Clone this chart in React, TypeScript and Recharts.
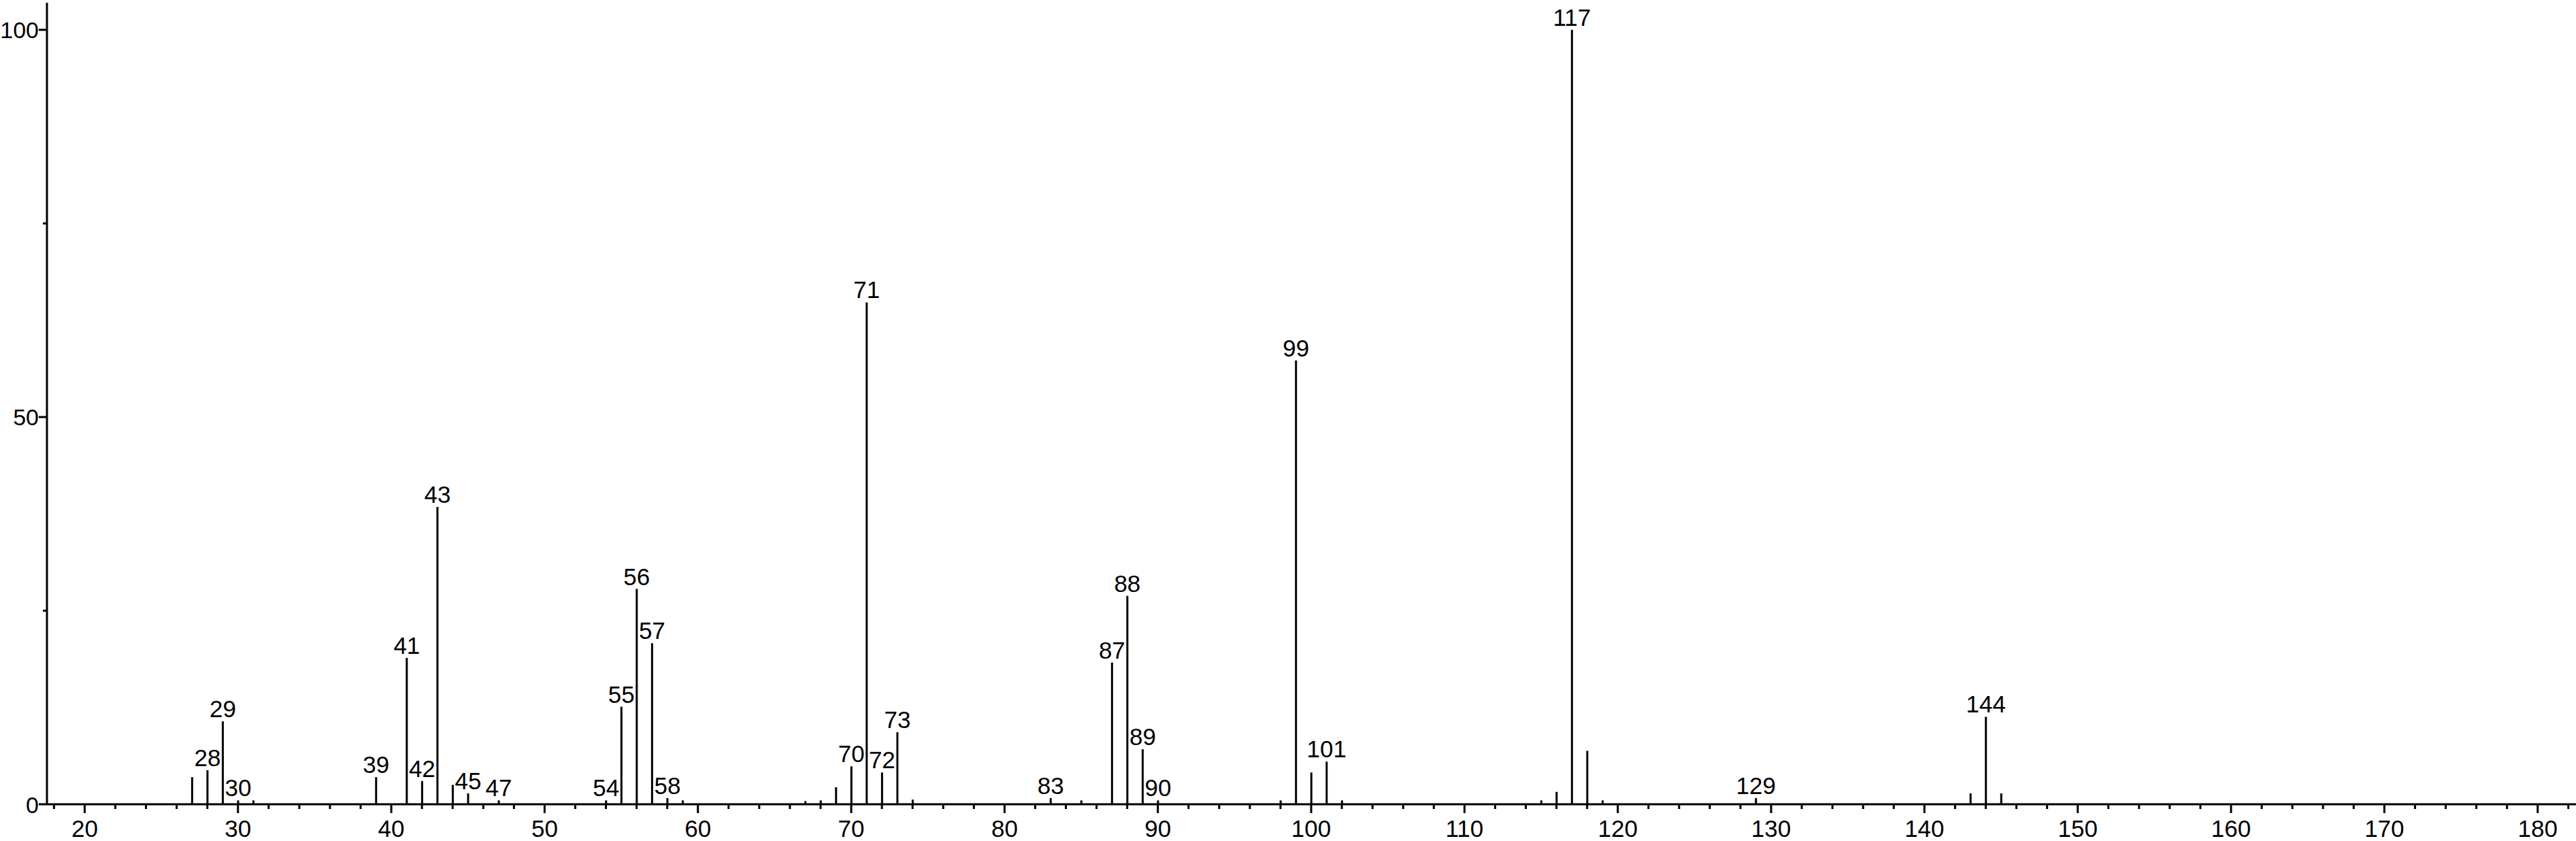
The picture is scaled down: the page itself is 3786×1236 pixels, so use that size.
import React from 'react';
import { BarChart, Bar, XAxis, YAxis, LabelList } from 'recharts';

const mzValues = [27, 28, 29, 30, 31, 39, 41, 42, 43, 44, 45, 47, 54, 55, 56, 57, 58, 59, 67, 68, 69, 70, 71, 72, 73, 74, 83, 85, 87, 88, 89, 90, 98, 99, 100, 101, 102, 115, 116, 117, 118, 119, 129, 143, 144, 145];
const intensities = [3.5, 4.4, 10.7, 0.5, 0.5, 3.5, 18.9, 3.0, 38.4, 2.5, 1.4, 0.5, 0.5, 12.6, 27.8, 20.8, 0.8, 0.5, 0.4, 0.5, 2.2, 4.9, 64.8, 4.1, 9.3, 0.6, 0.8, 0.5, 18.3, 26.9, 7.1, 0.5, 0.5, 57.3, 4.1, 5.5, 0.5, 0.5, 1.6, 100, 6.9, 0.5, 0.8, 1.4, 11.3, 1.4];
const labeledPeaks = [28, 29, 30, 39, 41, 42, 43, 45, 47, 54, 55, 56, 57, 58, 70, 71, 72, 73, 83, 87, 88, 89, 90, 99, 101, 117, 129, 144];

const xTicks = [18, 20, 22, 24, 26, 28, 30, 32, 34, 36, 38, 40, 42, 44, 46, 48, 50, 52, 54, 56, 58, 60, 62, 64, 66, 68, 70, 72, 74, 76, 78, 80, 82, 84, 86, 88, 90, 92, 94, 96, 98, 100, 102, 104, 106, 108, 110, 112, 114, 116, 118, 120, 122, 124, 126, 128, 130, 132, 134, 136, 138, 140, 142, 144, 146, 148, 150, 152, 154, 156, 158, 160, 162, 164, 166, 168, 170, 172, 174, 176, 178, 180, 182];
const xMajorTicks = [20, 30, 40, 50, 60, 70, 80, 90, 100, 110, 120, 130, 140, 150, 160, 170, 180];
const yTicks = [0, 25, 50, 75, 100];
const yMajorTicks = [0, 50, 100];

const data = mzValues.map((mz, i) => ({
  mz,
  intensity: intensities[i],
  label: labeledPeaks.includes(mz) ? String(mz) : '',
}));

const FONT = '"Liberation Sans", Arial, Helvetica, sans-serif';
const FS = 35;

const XTick = (props: any) => {
  const { x, y, payload } = props;
  const major = xMajorTicks.includes(payload.value);
  return (
    <g>
      <line x1={x} y1={y} x2={x} y2={y + (major ? 13 : 7)} stroke="#000" strokeWidth={3} />
      {major && (
        <text x={x} y={y + 48} textAnchor="middle" fontFamily={FONT} fontSize={FS} fill="#000">
          {payload.value}
        </text>
      )}
    </g>
  );
};

const YTick = (props: any) => {
  const { x, y, payload } = props;
  const major = yMajorTicks.includes(payload.value);
  const len = major ? 12 : 6;
  return (
    <g>
      <line x1={x - len} y1={y} x2={x} y2={y} stroke="#000" strokeWidth={3} />
      {major && (
        <text x={x - len} y={y + 12.5} textAnchor="end" fontFamily={FONT} fontSize={34} fill="#000">
          {payload.value}
        </text>
      )}
    </g>
  );
};

const PeakLabel = (props: any) => {
  const { x, y, width, value } = props;
  if (!value) return null;
  return (
    <text x={x + width / 2} y={y - 6} textAnchor="middle" fontFamily={FONT} fontSize={FS} fill="#000">
      {value}
    </text>
  );
};

export default function App() {
  return (
    <div style={{ position: 'absolute', left: 0, top: 0, background: '#fff' }}>
      <BarChart width={3786} height={1236} data={data} margin={{ top: 4, right: 0, left: 0, bottom: 0 }}>
        <XAxis
          dataKey="mz"
          type="number"
          domain={[17.54, 182.5]}
          allowDataOverflow
          ticks={xTicks}
          interval={0}
          tickSize={0}
          tickMargin={0}
          tickLine={false}
          axisLine={{ stroke: '#000', strokeWidth: 3 }}
          height={54}
          tick={<XTick />}
        />
        <YAxis
          type="number"
          domain={[0, 103.5]}
          allowDataOverflow
          ticks={yTicks}
          interval={0}
          tickSize={0}
          tickMargin={0}
          tickLine={false}
          axisLine={{ stroke: '#000', strokeWidth: 3 }}
          width={69}
          tick={<YTick />}
        />
        <Bar dataKey="intensity" fill="#000" barSize={3} isAnimationActive={false}>
          <LabelList dataKey="label" content={<PeakLabel />} />
        </Bar>
      </BarChart>
    </div>
  );
}
